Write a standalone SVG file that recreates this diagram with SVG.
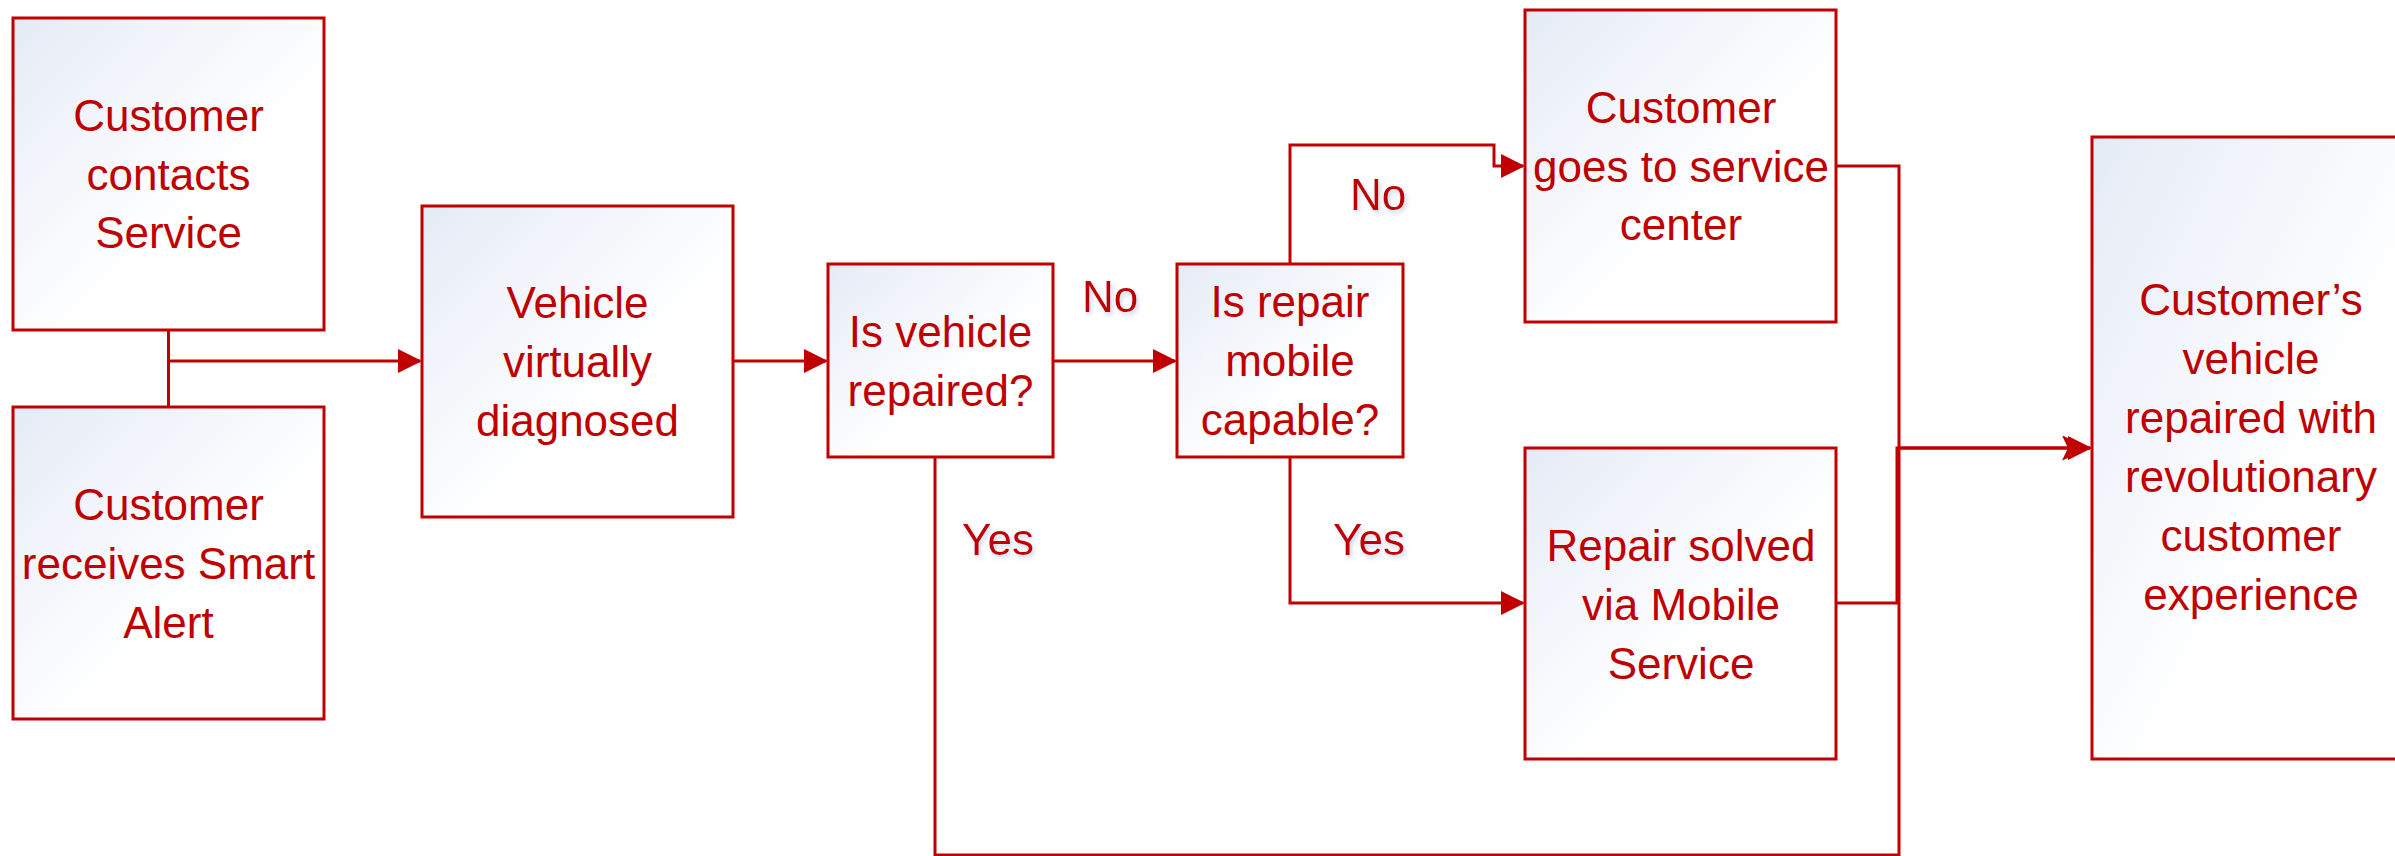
<svg xmlns="http://www.w3.org/2000/svg" width="2395" height="856" viewBox="0 0 2395 856">
  <style>
    .box { stroke: #C00000; stroke-width: 3; fill: url(#boxfill); }
    .txt { font-family: "Liberation Sans", Arial, sans-serif; font-size: 44px; fill: #C00000; text-anchor: middle; }
    .lbl { font-family: "Liberation Sans", Arial, sans-serif; font-size: 44px; fill: #C00000; text-anchor: middle; filter: url(#glow); }
    .conn { stroke: #C00000; stroke-width: 3; fill: none; }
  </style>
  <defs>
    <linearGradient id="boxfill" x1="0" y1="0" x2="1" y2="1">
      <stop offset="0" stop-color="#E5EBF6"/>
      <stop offset="0.6" stop-color="#FFFFFF"/>
      <stop offset="1" stop-color="#FFFFFF"/>
    </linearGradient>
    <filter id="glow" x="-20%" y="-20%" width="140%" height="140%">
      <feDropShadow dx="2" dy="3" stdDeviation="2" flood-color="#A9BCDD" flood-opacity="0.6"/>
    </filter>
    <marker id="arrow" markerUnits="userSpaceOnUse" markerWidth="24" markerHeight="24" refX="22" refY="12" orient="auto">
      <path d="M0,0 L24,12 L0,24 Z" fill="#C00000"/>
    </marker>
    <marker id="arrowL" markerUnits="userSpaceOnUse" markerWidth="30" markerHeight="25" refX="28" refY="12.5" orient="auto">
      <path d="M0,0 L30,12.5 L0,25 L6,12.5 Z" fill="#C00000"/>
      <path d="M6,0.5 L30,12.5 L6,24.5 Z" fill="#C00000"/>
    </marker>
  </defs>

  <g id="connectors">
    <path class="conn" d="M168.5,330 V407"/>
    <path class="conn" d="M168.5,361 H420" marker-end="url(#arrow)"/>
    <path class="conn" d="M733,361 H826" marker-end="url(#arrow)"/>
    <path class="conn" d="M1053,361 H1175" marker-end="url(#arrow)"/>
    <path class="conn" d="M1290,264 V145 H1494 V166 H1523" marker-end="url(#arrow)"/>
    <path class="conn" d="M1290,457 V603 H1523" marker-end="url(#arrow)"/>
    <path class="conn" d="M1836,166 H1899 V448 H2090" marker-end="url(#arrowL)"/>
    <path class="conn" d="M1836,603 H1897 V448 H2090"/>
    <path class="conn" d="M935,457 V855 H1899 V448"/>
  </g>

  <g id="n1">
    <rect class="box" x="13" y="18" width="311" height="312"/>
    <text class="txt" x="168.5" y="131">Customer</text>
    <text class="txt" x="168.5" y="189.5">contacts</text>
    <text class="txt" x="168.5" y="248">Service</text>
  </g>
  <g id="n2">
    <rect class="box" x="13" y="407" width="311" height="312"/>
    <text class="txt" x="168.5" y="520">Customer</text>
    <text class="txt" x="168.5" y="579">receives Smart</text>
    <text class="txt" x="168.5" y="638">Alert</text>
  </g>
  <g id="n3">
    <rect class="box" x="422" y="206" width="311" height="311"/>
    <text class="txt" x="577.5" y="318">Vehicle</text>
    <text class="txt" x="577.5" y="377">virtually</text>
    <text class="txt" x="577.5" y="436">diagnosed</text>
  </g>
  <g id="n4">
    <rect class="box" x="828" y="264" width="225" height="193"/>
    <text class="txt" x="940.5" y="347">Is vehicle</text>
    <text class="txt" x="940.5" y="405.5">repaired?</text>
  </g>
  <g id="n5">
    <rect class="box" x="1177" y="264" width="226" height="193"/>
    <text class="txt" x="1290" y="317">Is repair</text>
    <text class="txt" x="1290" y="376">mobile</text>
    <text class="txt" x="1290" y="435">capable?</text>
  </g>
  <g id="n6">
    <rect class="box" x="1525" y="10" width="311" height="312"/>
    <text class="txt" x="1681" y="122.5">Customer</text>
    <text class="txt" x="1681" y="181.5">goes to service</text>
    <text class="txt" x="1681" y="240">center</text>
  </g>
  <g id="n7">
    <rect class="box" x="1525" y="448" width="311" height="311"/>
    <text class="txt" x="1681" y="561">Repair solved</text>
    <text class="txt" x="1681" y="620">via Mobile</text>
    <text class="txt" x="1681" y="679">Service</text>
  </g>
  <g id="n8">
    <rect class="box" x="2092" y="137" width="318" height="622"/>
    <text class="txt" x="2251" y="315">Customer’s</text>
    <text class="txt" x="2251" y="374">vehicle</text>
    <text class="txt" x="2251" y="433">repaired with</text>
    <text class="txt" x="2251" y="492">revolutionary</text>
    <text class="txt" x="2251" y="551">customer</text>
    <text class="txt" x="2251" y="610">experience</text>
  </g>

  <g id="labels">
    <text class="lbl" x="1110" y="312">No</text>
    <text class="lbl" x="1378" y="210">No</text>
    <text class="lbl" x="998" y="555">Yes</text>
    <text class="lbl" x="1369" y="555">Yes</text>
  </g>
</svg>
